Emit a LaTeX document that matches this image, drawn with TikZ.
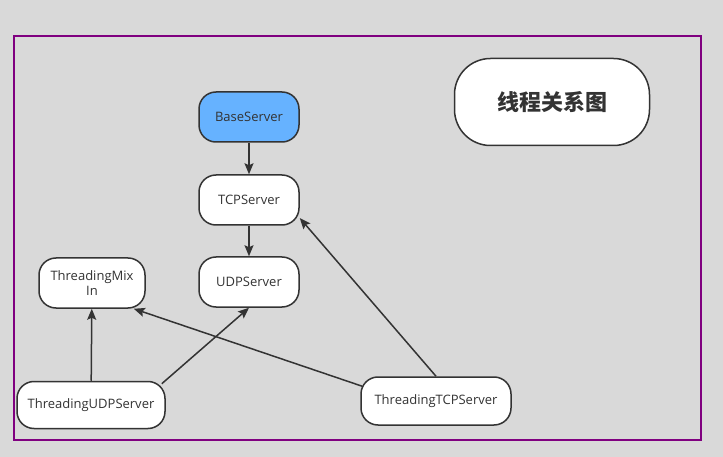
\documentclass[tikz,border=0pt]{standalone}
\usepackage{fontspec}
\setmainfont{Open Sans}
\newfontfamily\cjk{Noto Sans CJK SC}
\usetikzlibrary{%
  arrows.meta%
}
\definecolor{bggray}{HTML}{D9D9D9}
\definecolor{framepurple}{HTML}{800080}
\definecolor{baseblue}{HTML}{66B2FF}
\tikzset{
  cls/.style={draw=black!80,line width=1.5pt,fill=white,rounded corners=17pt,
    minimum width=100pt,minimum height=50pt,align=center,
    font=\fontsize{13}{15}\selectfont,text=black!80},
  inh/.style={-{Stealth[length=11pt,width=9pt,inset=2pt]},line width=1.5pt,draw=black!80}
}
\begin{document}
\begin{tikzpicture}[x=1pt,y=-1pt]
      \fill [bggray] (0,0) rectangle (723,457);
      \useasboundingbox (0,0) rectangle (723,457);
      \draw [framepurple,line width=2.5pt] (14,36) rectangle (701,440);
      % title
      \node [cls,minimum width=195pt,minimum height=87pt,rounded corners=36pt,
        font=\cjk\bfseries\fontsize{22}{24}\selectfont] (title) at (552,102) {线程关系图};
      % classes
      \node [cls,fill=baseblue] (base) at (249,117) {BaseServer};
      \node [cls] (tcp) at (249,200) {TCPServer};
      \node [cls] (udp) at (249,282) {UDPServer};
      \node [cls,minimum width=106pt] (mixin) at (92,283) {ThreadingMix\\In};
      \node [cls,minimum width=148pt,minimum height=47pt] (tudp) at (91,405) {ThreadingUDPServer};
      \node [cls,minimum width=150pt,minimum height=48pt] (ttcp) at (436,401) {ThreadingTCPServer};
      % inheritance
      \draw [inh] (base) -- (tcp);
      \draw [inh] (tcp) -- (udp);
      \draw [inh] (tudp) -- (mixin);
      \draw [inh] (tudp.north east) ++(-4,3) coordinate (tudpne) (tudpne) -- (udp.south);
      \draw [inh] (ttcp.north west) ++(2,10) coordinate (ttcpnw) (ttcpnw) -- ([xshift=-12pt]mixin.south east);
      \draw [inh] (ttcp.north) -- ([yshift=-18pt]tcp.east);
    \end{tikzpicture}
\end{document}
